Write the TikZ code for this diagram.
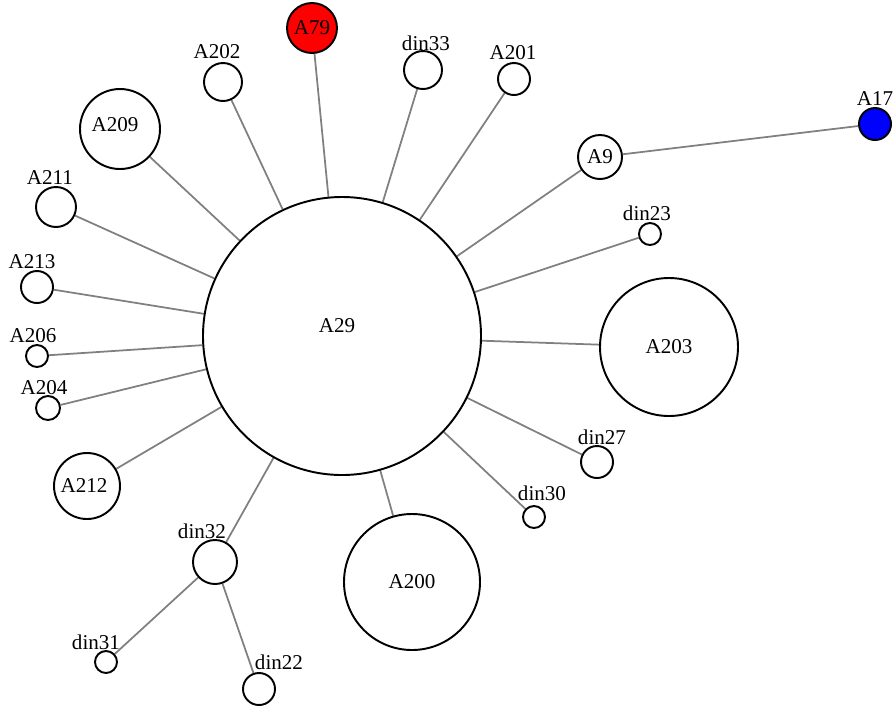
\documentclass[tikz,border=0pt]{standalone}
\usepackage{fontspec}
\setmainfont{Liberation Serif}
\usetikzlibrary{backgrounds}

\tikzset{
  vtx/.style={circle, draw=black, line width=1.1pt, fill=white, inner sep=0pt,
    minimum size={2*#1*0.02cm}, font=\fontsize{12}{14}\selectfont},
  lnk/.style={gray, line width=1pt},
  lbl/.style={font=\fontsize{12}{14}\selectfont, inner sep=0pt}
}

\begin{document}
\begin{tikzpicture}[x=0.02cm, y=-0.02cm]

  \useasboundingbox (0,0) rectangle (893,708);

  % hub
  \node [vtx=139] (A29) at (342,336) {};
  \node [lbl] (lA29) at (337,326) {A29};

  % big vertices with text inside
  \node [vtx=25, fill=red] (A79) at (312,28) {A79};
  \node [vtx=40] (A209) at (120,129) {};
  \node [lbl] (lA209) at (115,125) {A209};
  \node [vtx=22] (A9) at (600,157) {A9};
  \node [vtx=33] (A212) at (87,486) {};
  \node [lbl] (lA212) at (84,486) {A212};
  \node [vtx=69] (A203) at (669,347) {A203};
  \node [vtx=68] (A200) at (412,582) {A200};

  % vertices with label above
  \node [vtx=19] (A202) at (223,82) {};
  \node [lbl] (lA202) at (217,52) {A202};

  \node [vtx=19] (din33) at (423,70) {};
  \node [lbl] (ldin33) at (426,43) {din33};

  \node [vtx=16] (A201) at (514,79) {};
  \node [lbl] (lA201) at (513,53) {A201};

  \node [vtx=16, fill=blue] (A17) at (875,124) {};
  \node [lbl] (lA17) at (875,99) {A17};

  \node [vtx=20] (A211) at (56,207) {};
  \node [lbl] (lA211) at (50,178) {A211};

  \node [vtx=11] (din23) at (650,234) {};
  \node [lbl] (ldin23) at (647,213) {din23};

  \node [vtx=16] (A213) at (37,287) {};
  \node [lbl] (lA213) at (32,262) {A213};

  \node [vtx=11] (A206) at (37,356) {};
  \node [lbl] (lA206) at (33,336) {A206};

  \node [vtx=12] (A204) at (48,408) {};
  \node [lbl] (lA204) at (44,388) {A204};

  \node [vtx=16] (din27) at (597,462) {};
  \node [lbl] (ldin27) at (602,437) {din27};

  \node [vtx=11] (din30) at (534,517) {};
  \node [lbl] (ldin30) at (542,493) {din30};

  \node [vtx=22] (din32) at (215,562) {};
  \node [lbl] (ldin32) at (202,531) {din32};

  \node [vtx=11] (din31) at (106,662) {};
  \node [lbl] (ldin31) at (96,642) {din31};

  \node [vtx=16] (din22) at (259,689) {};
  \node [lbl] (ldin22) at (279,662) {din22};

  % edges
  \begin{pgfonlayer}{background}
    \foreach \v in {A79,A202,din33,A201,A9,din23,A203,din27,din30,A200,din32,A212,A204,A206,A213,A211,A209}
      \draw [lnk] (A29) -- (\v);
    \draw [lnk] (A9) -- (A17);
    \draw [lnk] (din32) -- (din31);
    \draw [lnk] (din32) -- (din22);
  \end{pgfonlayer}

\end{tikzpicture}
\end{document}
